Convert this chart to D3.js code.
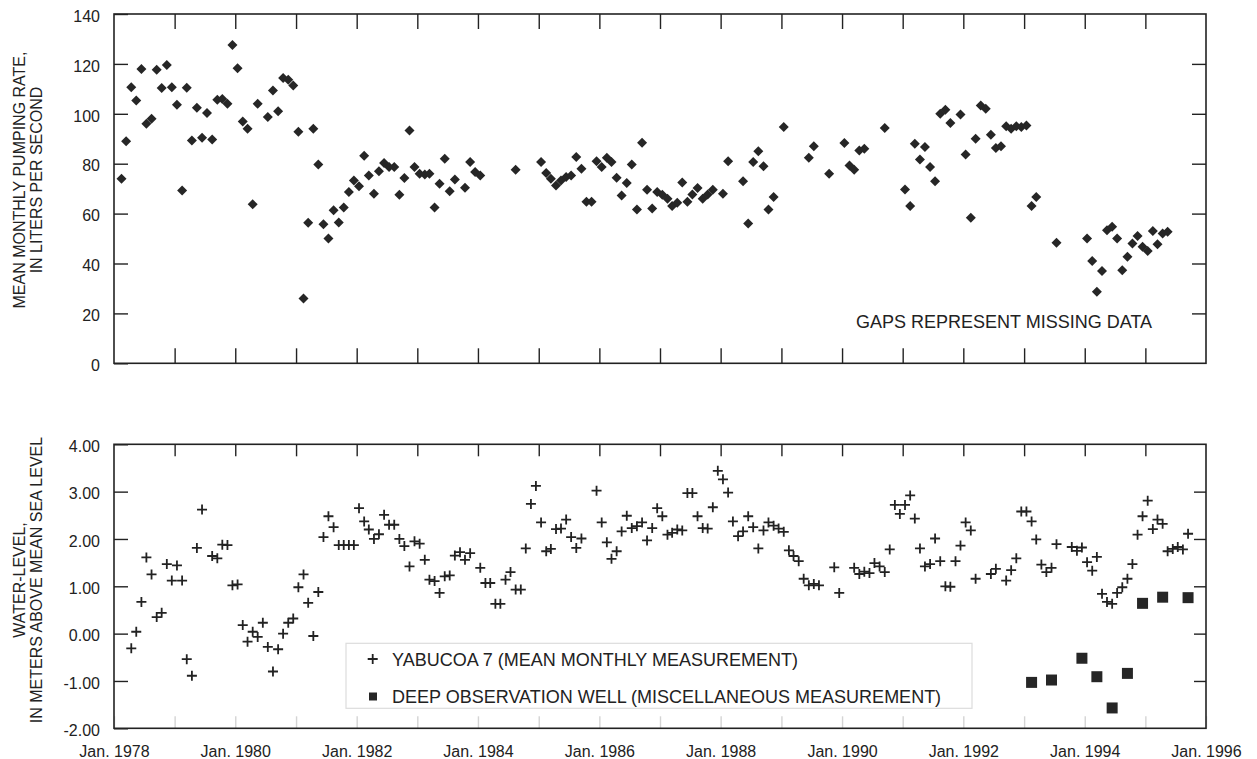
<!DOCTYPE html>
<html>
<head>
<meta charset="utf-8">
<script src="https://cdn.jsdelivr.net/npm/d3@7/dist/d3.min.js"></script>
<style>
  html, body { margin: 0; padding: 0; background: #fff; }
  svg { display: block; font-family: "Liberation Sans", Arial, Helvetica, sans-serif; }
</style>
</head>
<body>
<svg id="chart" width="1257" height="759"></svg>
<script>
// ---------------- DATA ----------------
const pumpDates = [
  "1978-02","1978-03","1978-04","1978-05","1978-06","1978-07","1978-08","1978-09","1978-10","1978-11","1978-12",
  "1979-01","1979-02","1979-03","1979-04","1979-05","1979-06","1979-07","1979-08","1979-09","1979-10","1979-11","1979-12",
  "1980-01","1980-02","1980-03","1980-04","1980-05","1980-07","1980-08","1980-09","1980-10","1980-11","1980-12",
  "1981-01","1981-02","1981-03","1981-04","1981-05","1981-06","1981-07","1981-08","1981-09","1981-10","1981-11","1981-12",
  "1982-01","1982-02","1982-03","1982-04","1982-05","1982-06","1982-07","1982-08","1982-09","1982-10","1982-11","1982-12",
  "1983-01","1983-02","1983-03","1983-04","1983-05","1983-06","1983-07","1983-08","1983-10","1983-11","1983-12",
  "1984-01","1984-08",
  "1985-01","1985-02","1985-03","1985-04","1985-05","1985-06","1985-07","1985-08","1985-09","1985-10","1985-11","1985-12",
  "1986-01","1986-02","1986-03","1986-04","1986-05","1986-06","1986-07","1986-08","1986-09","1986-10","1986-11","1986-12",
  "1987-01","1987-02","1987-03","1987-04","1987-05","1987-06","1987-07","1987-08","1987-09","1987-10","1987-11",
  "1988-01","1988-02","1988-05","1988-06","1988-07","1988-08","1988-09","1988-10","1988-11",
  "1989-01","1989-06","1989-07","1989-10",
  "1990-01","1990-02","1990-03","1990-04","1990-05","1990-09",
  "1991-01","1991-02","1991-03","1991-04","1991-05","1991-06","1991-07","1991-08","1991-09","1991-10","1991-12",
  "1992-01","1992-02","1992-03","1992-04","1992-05","1992-06","1992-07","1992-08","1992-09","1992-10","1992-11","1992-12",
  "1993-01","1993-02","1993-03","1993-07",
  "1994-01","1994-02","1994-03","1994-04","1994-05","1994-06","1994-07","1994-08","1994-09","1994-10","1994-11","1994-12",
  "1995-01","1995-02","1995-03","1995-04","1995-05"
];
const pumpRates = [
  74,89,110.6,105.3,118,96,98,117.7,110.3,119.6,110.6,
  103.6,69.3,110.4,89.3,102.4,90.4,100.3,89.7,105.6,105.9,104,127.6,
  118.3,96.9,94,63.7,104,98.7,109.3,101,114.3,113.6,111.3,
  92.8,26,56.3,94,79.7,55.7,50,61.3,56.4,62.4,68.7,73.3,
  71,83.2,75.3,68,77,80.3,78.7,78.7,67.6,74.3,93.3,78.7,
  76,75.7,76,62.4,72,82,69,73.7,70.4,80.7,76.7,
  75.3,77.6,
  80.7,76.3,74,71.3,73.3,74.7,75.3,82.7,78,64.7,64.7,81,
  78.7,82.4,80.7,74.4,67.3,72.3,79.7,61.6,88.4,69.6,62,68.7,
  67.6,66,63,64.3,72.5,64.7,67.7,70.3,66,67.7,69.6,
  68,81,73,56,80.7,85,79,61.6,66.7,
  94.7,82.4,87,76,
  88.3,79.3,77.6,85.3,86,94.3,
  69.7,63,88,81.7,86.7,78.7,73,100,101.6,96.3,99.7,
  83.7,58.3,90,103.3,102,91.6,86.3,87,95,94,95,94.7,
  95.3,63,66.7,48.3,
  50,41,28.7,37,53.3,54.7,50,37.3,42.7,48,51,46.7,
  45,53,47.7,52,52.7
];

const levelDates = [
  "1978-04","1978-05","1978-06","1978-07","1978-08","1978-09","1978-10","1978-11","1978-12",
  "1979-01","1979-02","1979-03","1979-04","1979-05","1979-06","1979-08","1979-09","1979-10","1979-11","1979-12",
  "1980-01","1980-02","1980-03","1980-04","1980-05","1980-06","1980-07","1980-08","1980-09","1980-10","1980-11","1980-12",
  "1981-01","1981-02","1981-03","1981-04","1981-05","1981-06","1981-07","1981-08","1981-09","1981-10","1981-11","1981-12",
  "1982-01","1982-02","1982-03","1982-04","1982-05","1982-06","1982-07","1982-08","1982-09","1982-10","1982-11","1982-12",
  "1983-01","1983-02","1983-03","1983-04","1983-05","1983-06","1983-07","1983-08","1983-09","1983-10","1983-11",
  "1984-01","1984-02","1984-03","1984-04","1984-05","1984-06","1984-07","1984-08","1984-09","1984-10","1984-11","1984-12",
  "1985-01","1985-02","1985-03","1985-04","1985-05","1985-06","1985-07","1985-08","1985-09","1985-12",
  "1986-01","1986-02","1986-03","1986-04","1986-05","1986-06","1986-07","1986-08","1986-09","1986-10","1986-11","1986-12",
  "1987-01","1987-02","1987-03","1987-04","1987-05","1987-06","1987-07","1987-08","1987-09","1987-10","1987-11","1987-12",
  "1988-01","1988-02","1988-03","1988-04","1988-05","1988-06","1988-07","1988-08","1988-09","1988-10","1988-11","1988-12",
  "1989-01","1989-02","1989-03","1989-04","1989-05","1989-06","1989-07","1989-08","1989-11","1989-12",
  "1990-03","1990-04","1990-05","1990-06","1990-07","1990-08","1990-09","1990-10","1990-11","1990-12",
  "1991-01","1991-02","1991-03","1991-04","1991-05","1991-06","1991-07","1991-08","1991-09","1991-10","1991-11","1991-12",
  "1992-01","1992-02","1992-03","1992-06","1992-07","1992-09","1992-10","1992-11","1992-12",
  "1993-01","1993-02","1993-03","1993-04","1993-05","1993-06","1993-07","1993-10","1993-11","1993-12",
  "1994-01","1994-02","1994-03","1994-04","1994-05","1994-06","1994-07","1994-08","1994-09","1994-10","1994-11","1994-12",
  "1995-01","1995-02","1995-03","1995-04","1995-05","1995-06","1995-07","1995-08","1995-09"
];
const levelValues = [
  -0.31,0.04,0.67,1.61,1.25,0.35,0.44,1.47,1.12,
  1.44,1.12,-0.54,-0.89,1.81,2.62,1.64,1.59,1.88,1.87,1.02,
  1.04,0.18,-0.17,0.04,-0.07,0.23,-0.28,-0.80,-0.33,0.00,0.23,0.32,
  0.98,1.25,0.65,-0.05,0.88,2.04,2.48,2.25,1.87,1.87,1.87,1.87,
  2.65,2.37,2.20,2.00,2.10,2.51,2.30,2.30,2.00,1.85,1.42,1.95,
  1.90,1.56,1.14,1.11,0.86,1.21,1.23,1.65,1.72,1.56,1.70,
  1.39,1.07,1.07,0.63,0.63,1.14,1.30,0.93,0.93,1.80,2.74,3.12,
  2.35,1.74,1.79,2.21,2.22,2.41,2.04,1.81,2.01,3.02,
  2.35,1.93,1.58,1.74,2.16,2.49,2.23,2.27,2.35,1.97,2.23,2.65,
  2.48,2.09,2.13,2.20,2.18,2.97,2.97,2.48,2.23,2.22,2.67,3.44,
  3.26,2.98,2.37,2.06,2.16,2.48,2.25,1.80,2.18,2.35,2.28,2.22,
  2.15,1.76,1.64,1.53,1.16,1.02,1.05,1.02,1.40,0.86,
  1.39,1.26,1.31,1.28,1.49,1.42,1.30,1.78,2.72,2.53,
  2.72,2.92,2.43,1.80,1.42,1.47,2.01,1.53,1.00,0.99,1.53,1.86,
  2.35,2.18,1.16,1.26,1.37,1.12,1.34,1.59,2.58,
  2.58,2.37,1.99,1.46,1.30,1.39,1.89,1.83,1.75,1.82,
  1.51,1.33,1.62,0.84,0.67,0.63,0.86,0.98,1.16,1.47,2.09,2.48,
  2.81,2.21,2.41,2.32,1.74,1.79,1.83,1.78,2.11
];

const deepDates = ["1993-02","1993-06","1993-12","1994-03","1994-06","1994-09","1994-12","1995-04","1995-09"];
const deepValues = [-1.03,-0.98,-0.52,-0.91,-1.57,-0.84,0.64,0.77,0.76];

const pumpTicks = [0,20,40,60,80,100,120,140];
const levelTicks = [-2,-1,0,1,2,3,4];

const legendLabels = ["YABUCOA 7 (MEAN MONTHLY MEASUREMENT)", "DEEP OBSERVATION WELL (MISCELLANEOUS MEASUREMENT)"];
const noteText = "GAPS REPRESENT MISSING DATA";
const pumpTitle = ["MEAN MONTHLY PUMPING RATE,", "IN LITERS PER SECOND"];
const levelTitle = ["WATER-LEVEL,", "IN METERS ABOVE MEAN SEA LEVEL"];

// ---------------- LAYOUT ----------------
const svg = d3.select("#chart");
const INK = "#222";
const left = 114, right = 1206;
const top1 = 14, bot1 = 363.3;
const top2 = 444.3, bot2 = 728.3;

const parseMonth = d3.timeParse("%Y-%m");
const mid = s => d3.timeDay.offset(parseMonth(s), 14);

const x = d3.scaleTime()
  .domain([new Date(1978, 0, 1), new Date(1996, 0, 1)])
  .range([left, right]);
const y1 = d3.scaleLinear().domain([0, 140]).range([bot1, top1]);
const y2 = d3.scaleLinear().domain([-2, 4]).range([bot2, top2]);

// Jan. 1978 ... Jan. 1996 (19 year marks)
const years = d3.timeYear.range(new Date(1978, 0, 1), new Date(1996, 0, 2));
const innerYears = years.slice(1, -1);

function styleAxis(g, color) {
  g.select(".domain").remove();
  g.selectAll(".tick line").attr("stroke", color || INK).attr("stroke-width", 1.4);
  g.selectAll(".tick text").attr("fill", INK).attr("font-size", 16)
    .attr("font-family", '"Liberation Sans", Arial, sans-serif');
}

// ---------- TOP PANEL ----------
svg.append("g").attr("transform", `translate(0,${top1})`)
  .call(d3.axisTop(x).tickValues(innerYears).tickSize(-15).tickFormat(""))
  .call(g => styleAxis(g));
svg.append("g").attr("transform", `translate(0,${bot1})`)
  .call(d3.axisBottom(x).tickValues(innerYears).tickSize(-15).tickFormat(""))
  .call(g => styleAxis(g));
svg.append("g").attr("transform", `translate(${left},0)`)
  .call(d3.axisLeft(y1).tickValues(pumpTicks).tickSize(-14).tickPadding(14).tickFormat(d3.format("d")))
  .call(g => styleAxis(g))
  .call(g => g.selectAll(".tick text").attr("dy", "0.45em"));
svg.append("g").attr("transform", `translate(${right},0)`)
  .call(d3.axisRight(y1).tickValues(pumpTicks.slice(1, -1)).tickSize(-14).tickFormat(""))
  .call(g => styleAxis(g));

svg.append("rect")
  .attr("x", left).attr("y", top1).attr("width", right - left).attr("height", bot1 - top1)
  .attr("fill", "none").attr("stroke", INK).attr("stroke-width", 1.6);

const diamond = d3.symbol(d3.symbolSquare, 50);
svg.append("g").selectAll("path")
  .data(pumpDates.map((d, i) => ({ date: mid(d), v: pumpRates[i] })))
  .join("path")
  .attr("d", diamond)
  .attr("transform", d => `translate(${x(d.date)},${y1(d.v)}) rotate(45)`)
  .attr("fill", "#262626");

svg.append("text")
  .attr("x", 856).attr("y", 328)
  .attr("font-size", 18).attr("fill", INK)
  .text(noteText);

// y titles
function yTitle(lines, cy) {
  const g = svg.append("g");
  g.append("text").attr("transform", `translate(25,${cy}) rotate(-90)`)
    .attr("text-anchor", "middle").attr("font-size", 16).attr("fill", INK).text(lines[0]);
  g.append("text").attr("transform", `translate(41.5,${cy}) rotate(-90)`)
    .attr("text-anchor", "middle").attr("font-size", 16).attr("fill", INK).text(lines[1]);
}
yTitle(pumpTitle, 180);
yTitle(levelTitle, 580);

// ---------- BOTTOM PANEL ----------
svg.append("g").attr("transform", `translate(0,${top2})`)
  .call(d3.axisTop(x).tickValues(innerYears).tickSize(-12).tickFormat(""))
  .call(g => styleAxis(g));
svg.append("g").attr("transform", `translate(0,${bot2})`)
  .call(d3.axisBottom(x).tickValues(years).tickSize(-12).tickPadding(17)
    .tickFormat(d => d.getFullYear() % 2 === 0 ? "Jan. " + d.getFullYear() : ""))
  .call(g => styleAxis(g, "#d4d4d4"))
  .call(g => g.selectAll(".tick text").attr("dy", "0.71em"));
svg.append("g").attr("transform", `translate(${left},0)`)
  .call(d3.axisLeft(y2).tickValues(levelTicks).tickSize(-14).tickPadding(14).tickFormat(d => d.toFixed(2)))
  .call(g => styleAxis(g))
  .call(g => g.selectAll(".tick text").attr("dy", "0.45em"));
svg.append("g").attr("transform", `translate(${right},0)`)
  .call(d3.axisRight(y2).tickValues(levelTicks.slice(1, -1)).tickSize(-12).tickFormat(""))
  .call(g => styleAxis(g));

svg.append("rect")
  .attr("x", left).attr("y", top2).attr("width", right - left).attr("height", bot2 - top2)
  .attr("fill", "none").attr("stroke", INK).attr("stroke-width", 1.6);

// legend box
const lg = svg.append("g");
lg.append("rect").attr("x", 346).attr("y", 643.3).attr("width", 626).attr("height", 65)
  .attr("fill", "#fff").attr("stroke", "#dcdcdc").attr("stroke-width", 1.2);

const plusPath = "M-5,0H5M0,-5V5";
svg.append("g").selectAll("path")
  .data(levelDates.map((d, i) => ({ date: mid(d), v: levelValues[i] })))
  .join("path")
  .attr("d", plusPath)
  .attr("transform", d => `translate(${x(d.date)},${y2(d.v)})`)
  .attr("stroke", "#222").attr("stroke-width", 1.8).attr("fill", "none");

const sq = d3.symbol(d3.symbolSquare, 121);
svg.append("g").selectAll("path")
  .data(deepDates.map((d, i) => ({ date: mid(d), v: deepValues[i] })))
  .join("path")
  .attr("d", sq)
  .attr("transform", d => `translate(${x(d.date)},${y2(d.v)})`)
  .attr("fill", "#262626");

lg.append("path").attr("d", plusPath).attr("transform", "translate(372.7,659)")
  .attr("stroke", "#222").attr("stroke-width", 1.8);
lg.append("path").attr("d", d3.symbol(d3.symbolSquare, 64)).attr("transform", "translate(373,696.5)")
  .attr("fill", "#262626");
lg.append("text").attr("x", 392).attr("y", 666).attr("font-size", 18).attr("fill", INK).text(legendLabels[0]);
lg.append("text").attr("x", 392).attr("y", 702.5).attr("font-size", 18).attr("fill", INK).text(legendLabels[1]);
</script>
</body>
</html>
